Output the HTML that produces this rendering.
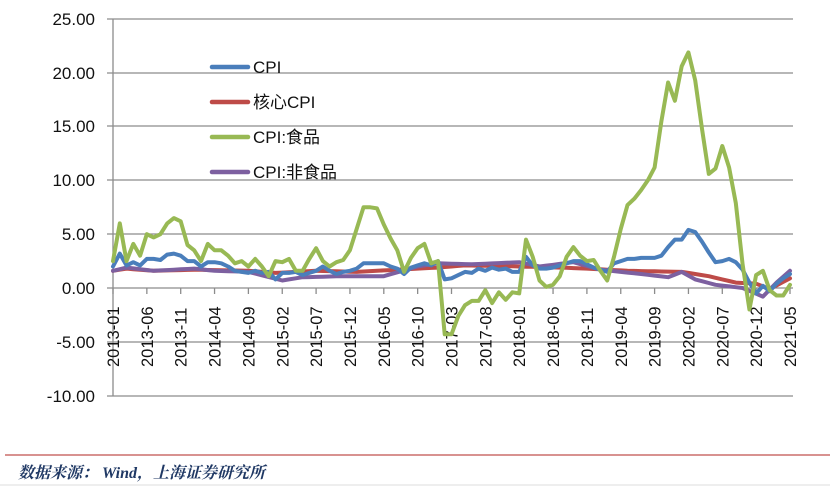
<!DOCTYPE html>
<html><head><meta charset="utf-8"><style>
body{margin:0;background:#fff;}
svg{display:block;font-family:"Liberation Sans","Noto Sans CJK SC",sans-serif;}
</style></head><body>
<svg id="s" width="830" height="486" xmlns="http://www.w3.org/2000/svg">
<g stroke="#8c8c8c" stroke-width="1.3" fill="none">
<line x1="107" y1="19" x2="793" y2="19"/><line x1="107" y1="73" x2="793" y2="73"/>
<line x1="107" y1="126" x2="793" y2="126"/><line x1="107" y1="180" x2="793" y2="180"/>
<line x1="107" y1="234" x2="793" y2="234"/><line x1="107" y1="288" x2="793" y2="288"/>
<line x1="107" y1="342" x2="793" y2="342"/><line x1="107" y1="396" x2="793" y2="396"/>
<line x1="113" y1="19" x2="113" y2="396"/>
<g id="ticks"></g>
</g>
<g font-size="17" fill="#111" text-anchor="end">
<text x="95" y="25">25.00</text><text x="95" y="79">20.00</text><text x="95" y="132">15.00</text>
<text x="95" y="186">10.00</text><text x="95" y="240">5.00</text><text x="95" y="294">0.00</text>
<text x="95" y="348">-5.00</text><text x="95" y="402">-10.00</text>
</g>
<g id="xl" font-size="16.5" fill="#111"></g>
<g id="series" fill="none" stroke-width="4" stroke-linejoin="round" stroke-linecap="round"></g>
<g stroke-width="4.5" stroke-linecap="round">
<line x1="212" y1="67" x2="248" y2="67" stroke="#4a7ebb"/>
<line x1="212" y1="102" x2="248" y2="102" stroke="#be4b48"/>
<line x1="212" y1="137" x2="248" y2="137" stroke="#98b954"/>
<line x1="212" y1="172" x2="248" y2="172" stroke="#7d60a0"/>
</g>
<g font-size="17" fill="#111">
<text x="253" y="73">CPI</text><text x="253" y="108">核心CPI</text>
<text x="253" y="143">CPI:食品</text><text x="253" y="178">CPI:非食品</text>
</g>
<line x1="5" y1="455" x2="830" y2="455" stroke="#c0504d" stroke-width="1.2"/>
<line x1="0" y1="485" x2="830" y2="485" stroke="#ddd" stroke-width="1"/>
<text x="18" y="478" font-size="16" font-style="italic" font-weight="bold" fill="#1f3864" font-family="'Liberation Serif','Noto Serif CJK SC',serif">数据来源： Wind，上海证券研究所</text>
</svg>
<script>
const X=i=>113+i*6.77, Y=v=>288-v*10.76;
const ns="http://www.w3.org/2000/svg";
let t=document.getElementById('ticks'),xl=document.getElementById('xl');
const labs=["2013-01","2013-06","2013-11","2014-04","2014-09","2015-02","2015-07","2015-12","2016-05","2016-10","2017-03","2017-08","2018-01","2018-06","2018-11","2019-04","2019-09","2020-02","2020-07","2020-12","2021-05"];
labs.forEach((l,k)=>{let x=X(k*5);let ln=document.createElementNS(ns,'line');ln.setAttribute('x1',x);ln.setAttribute('x2',x);ln.setAttribute('y1',288);ln.setAttribute('y2',294);t.appendChild(ln);
let tx=document.createElementNS(ns,'text');tx.setAttribute('transform',`translate(${x+6},367) rotate(-90)`);tx.textContent=l;xl.appendChild(tx);});
const food=[2.5,6,2.5,4.1,3,5,4.7,5,6,6.5,6.2,4,3.5,2.5,4.1,3.5,3.5,3,2.3,2.5,2,2.7,2,1.1,2.5,2.4,2.7,1.6,1.6,2.7,3.7,2.5,2,2.4,2.6,3.5,5.5,7.5,7.5,7.4,5.9,4.6,3.5,1.5,2.8,3.7,4.1,2.3,2.5,-4.3,-4.3,-2.6,-1.6,-1.2,-1.2,-0.2,-1.4,-0.4,-1.1,-0.4,-0.5,4.5,2.9,0.7,0.1,0.3,1.1,2.9,3.8,3.0,2.5,2.6,1.6,0.7,2.9,5.5,7.7,8.3,9.1,10,11.2,15.5,19.1,17.4,20.6,21.9,19.3,14.8,10.6,11.1,13.2,11.2,7.9,2.2,-2,1.2,1.6,-0.2,-0.7,-0.7,0.3];
const cpi=[2,3.2,2.1,2.4,2.1,2.7,2.7,2.6,3.1,3.2,3.0,2.5,2.5,2.0,2.4,2.4,2.3,2.0,1.6,1.5,1.4,1.6,1.4,1.5,0.8,1.4,1.4,1.5,1.2,1.4,1.6,2.0,1.6,1.3,1.5,1.6,1.8,2.3,2.3,2.3,2.3,2.0,1.8,1.3,1.9,2.1,2.3,2.1,2.5,0.8,0.9,1.2,1.5,1.4,1.8,1.6,1.9,1.7,1.8,1.5,1.5,2.9,2.1,1.8,1.8,1.9,2.1,2.3,2.5,2.5,2.2,1.9,1.7,1.5,2.3,2.5,2.7,2.7,2.8,2.8,2.8,3.0,3.8,4.5,4.5,5.4,5.2,4.3,3.3,2.4,2.5,2.7,2.4,1.7,0.5,-0.5,0.2,-0.3,0.4,0.9,1.3];
function kp(pts){let a=[];for(let i=0;i<=100;i++){for(let j=0;j<pts.length-1;j++){let[p,v]=pts[j],[q,w]=pts[j+1];if(i>=p&&i<=q){a.push(v+(w-v)*(i-p)/(q-p||1));break;}}}return a;}
const core=kp([[0,1.6],[2,1.8],[6,1.6],[12,1.7],[20,1.6],[24,1.4],[30,1.6],[36,1.5],[42,1.7],[48,1.9],[52,2.1],[60,2.0],[66,1.9],[70,1.8],[76,1.6],[84,1.5],[88,1.1],[92,0.5],[95,0.4],[97,-0.1],[100,0.9]]);
const nonf=kp([[0,1.6],[2,1.9],[6,1.6],[12,1.8],[15,1.6],[20,1.5],[25,0.7],[28,1.0],[34,1.1],[40,1.1],[45,2.0],[48,2.3],[53,2.2],[60,2.4],[63,2.0],[68,2.4],[72,1.7],[78,1.3],[82,1.0],[84,1.5],[86,0.8],[89,0.3],[93,0],[96,-0.8],[98,0.5],[100,1.6]]);
const S=document.getElementById('series');
[[core,"#be4b48"],[nonf,"#7d60a0"],[cpi,"#4a7ebb"],[food,"#98b954"]].forEach(([d,c])=>{let p=document.createElementNS(ns,'polyline');p.setAttribute('points',d.map((v,i)=>X(i).toFixed(1)+','+Y(v).toFixed(1)).join(' '));p.setAttribute('stroke',c);S.appendChild(p);});
</script>
</body></html>
